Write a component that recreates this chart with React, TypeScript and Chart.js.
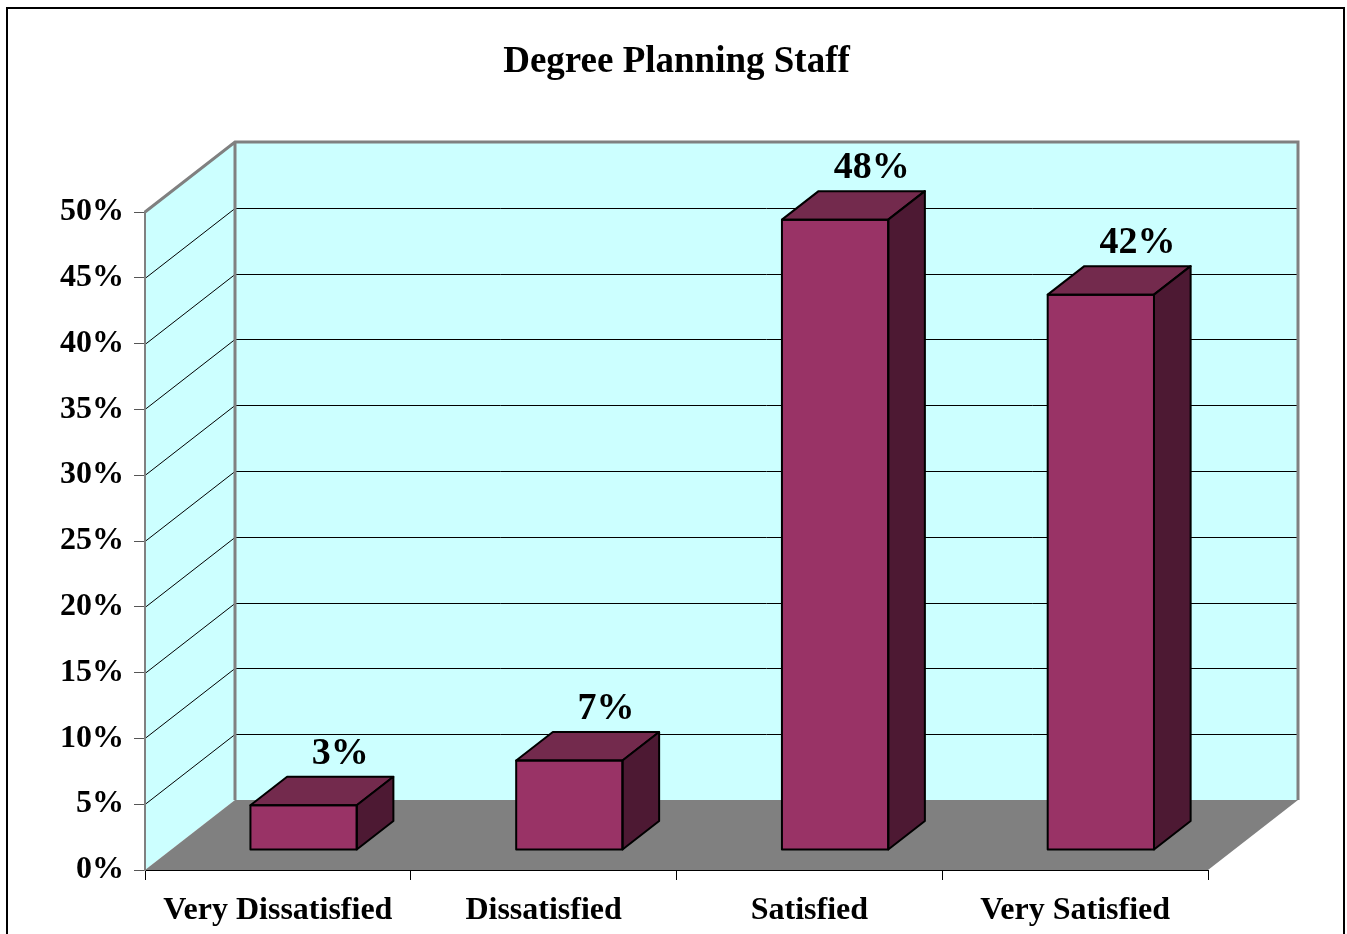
import React, { useEffect, useRef } from 'react';
import { Chart, registerables } from 'chart.js';

Chart.register(...registerables);

const TITLE = 'Degree Planning Staff';
const categories = ['Very Dissatisfied', 'Dissatisfied', 'Satisfied', 'Very Satisfied'];
const shares = [3.4, 6.8, 47.9, 42.2];
const yMin = 0;
const yMax = 50;
const yStep = 5;

// 3D geometry (styling only)
const DEPTH_X = 90;
const DEPTH_Y = -70;
const BAR_FRONT = 20 / 70;
const BAR_BACK = 48.5 / 70;

const FONT_FAMILY = '"Times New Roman", "Liberation Serif", serif';
const WALL = '#CCFFFF';
const FLOOR = '#808080';
const EDGE = '#808080';
const BAR_FRONT_COLOR = '#993366';
const BAR_TOP_COLOR = '#732A4D';
const BAR_SIDE_COLOR = '#4D1933';

function poly(ctx: CanvasRenderingContext2D, pts: number[][]) {
  ctx.beginPath();
  ctx.moveTo(pts[0][0], pts[0][1]);
  for (let i = 1; i < pts.length; i++) ctx.lineTo(pts[i][0], pts[i][1]);
  ctx.closePath();
}

const threeDPlugin = {
  id: 'threeD',
  beforeDraw(chart: any) {
    const { ctx, chartArea: a, scales } = chart;
    const y = scales.y;
    const L = a.left, R = a.right, T = a.top, B = a.bottom;
    ctx.save();
    // outer frame
    ctx.strokeStyle = '#000';
    ctx.lineWidth = 2;
    ctx.strokeRect(7, 8, 1337, 940);
    // title, centred on the whole frame
    ctx.fillStyle = '#000';
    ctx.font = `bold 37px ${FONT_FAMILY}`;
    ctx.textAlign = 'center';
    ctx.textBaseline = 'alphabetic';
    ctx.fillText(TITLE, chart.width / 2 + 3, 72);
    // back wall
    ctx.fillStyle = WALL;
    ctx.fillRect(L + DEPTH_X, T + DEPTH_Y, R - L, B - T);
    // side wall
    poly(ctx, [[L, T], [L + DEPTH_X, T + DEPTH_Y], [L + DEPTH_X, B + DEPTH_Y], [L, B]]);
    ctx.fill();
    // floor
    ctx.fillStyle = FLOOR;
    poly(ctx, [[L, B], [R, B], [R + DEPTH_X, B + DEPTH_Y], [L + DEPTH_X, B + DEPTH_Y]]);
    ctx.fill();
    // gridlines
    ctx.strokeStyle = '#000';
    ctx.lineWidth = 1;
    y.ticks.forEach((t: any) => {
      if (t.value <= yMin || t.value >= yMax) return;
      const py = Math.round(y.getPixelForValue(t.value)) + 0.5;
      ctx.beginPath();
      ctx.moveTo(L, py);
      ctx.lineTo(L + DEPTH_X, py + DEPTH_Y);
      ctx.lineTo(R + DEPTH_X, py + DEPTH_Y);
      ctx.stroke();
    });
    // wall edges
    ctx.strokeStyle = EDGE;
    ctx.lineWidth = 3;
    ctx.lineJoin = 'miter';
    ctx.beginPath();
    ctx.moveTo(L, T);
    ctx.lineTo(L + DEPTH_X, T + DEPTH_Y);
    ctx.lineTo(R + DEPTH_X, T + DEPTH_Y);
    ctx.lineTo(R + DEPTH_X, B + DEPTH_Y);
    ctx.moveTo(L + DEPTH_X, T + DEPTH_Y);
    ctx.lineTo(L + DEPTH_X, B + DEPTH_Y);
    ctx.stroke();
    ctx.restore();
  },
  beforeDatasetDraw(chart: any) {
    const ctx = chart.ctx;
    ctx.save();
    ctx.translate(DEPTH_X * BAR_FRONT, DEPTH_Y * BAR_FRONT);
  },
  afterDatasetDraw(chart: any, args: any) {
    const ctx = chart.ctx;
    const meta = args.meta;
    const ddx = DEPTH_X * (BAR_BACK - BAR_FRONT);
    const ddy = DEPTH_Y * (BAR_BACK - BAR_FRONT);
    ctx.lineWidth = 2;
    ctx.lineJoin = 'round';
    ctx.strokeStyle = '#000';
    meta.data.forEach((bar: any, i: number) => {
      const { x, y, base, width } = bar.getProps(['x', 'y', 'base', 'width'], true);
      const l = x - width / 2;
      const r = x + width / 2;
      // top face
      ctx.fillStyle = BAR_TOP_COLOR;
      poly(ctx, [[l, y], [r, y], [r + ddx, y + ddy], [l + ddx, y + ddy]]);
      ctx.fill();
      ctx.stroke();
      // side face
      ctx.fillStyle = BAR_SIDE_COLOR;
      poly(ctx, [[r, y], [r + ddx, y + ddy], [r + ddx, base + ddy], [r, base]]);
      ctx.fill();
      ctx.stroke();
      // front outline
      ctx.strokeRect(l, y, width, base - y);
      // value label
      const v = meta.controller.getDataset().data[i];
      ctx.fillStyle = '#000';
      ctx.font = `bold 38px ${FONT_FAMILY}`;
      ctx.textAlign = 'center';
      ctx.textBaseline = 'alphabetic';
      ctx.fillText(`${Math.round(v)}%`, x + ddx, y + ddy - 13);
    });
    ctx.restore();
  },
};

export default function App() {
  const canvasRef = useRef<HTMLCanvasElement | null>(null);

  useEffect(() => {
    const canvas = canvasRef.current;
    if (!canvas) return;
    const axisFont = { family: FONT_FAMILY, size: 32, weight: 'bold' as const };
    const chart = new Chart(canvas, {
      type: 'bar',
      data: {
        labels: categories,
        datasets: [
          {
            data: shares,
            backgroundColor: BAR_FRONT_COLOR,
            borderWidth: 0,
            barPercentage: 0.4,
            categoryPercentage: 1,
            clip: false as any,
          },
        ],
      },
      options: {
        responsive: false,
        animation: false,
        devicePixelRatio: 1,
        layout: { padding: { left: 0, right: 139, top: 212, bottom: 0 } },
        plugins: {
          legend: { display: false },
          tooltip: { enabled: false },
          title: { display: false },
        },
        scales: {
          x: {
            type: 'category',
            offset: true,
            grid: {
              offset: true,
              drawOnChartArea: false,
              drawTicks: true,
              tickLength: 10,
              color: '#000',
              lineWidth: 1,
            },
            border: { display: true, color: '#000', width: 1 },
            ticks: { color: '#000', font: axisFont, padding: 12, maxRotation: 0, autoSkip: false },
            afterFit: (s: any) => {
              s.height = 64;
            },
          },
          y: {
            min: yMin,
            max: yMax,
            ticks: {
              stepSize: yStep,
              color: '#000',
              font: axisFont,
              padding: 10,
              callback: (v: any) => `${v}%`,
            },
            grid: { drawOnChartArea: false, drawTicks: true, tickLength: 11, color: '#555' },
            border: { display: true, color: '#808080', width: 2 },
            afterFit: (s: any) => {
              s.width = 145;
            },
          },
        },
      },
      plugins: [threeDPlugin],
    });
    return () => chart.destroy();
  }, []);

  return (
    <div style={{ position: 'absolute', left: 0, top: 0, width: 1347, height: 934, background: '#fff' }}>
      <canvas ref={canvasRef} width={1347} height={934} style={{ display: 'block', width: 1347, height: 934 }} />
    </div>
  );
}
